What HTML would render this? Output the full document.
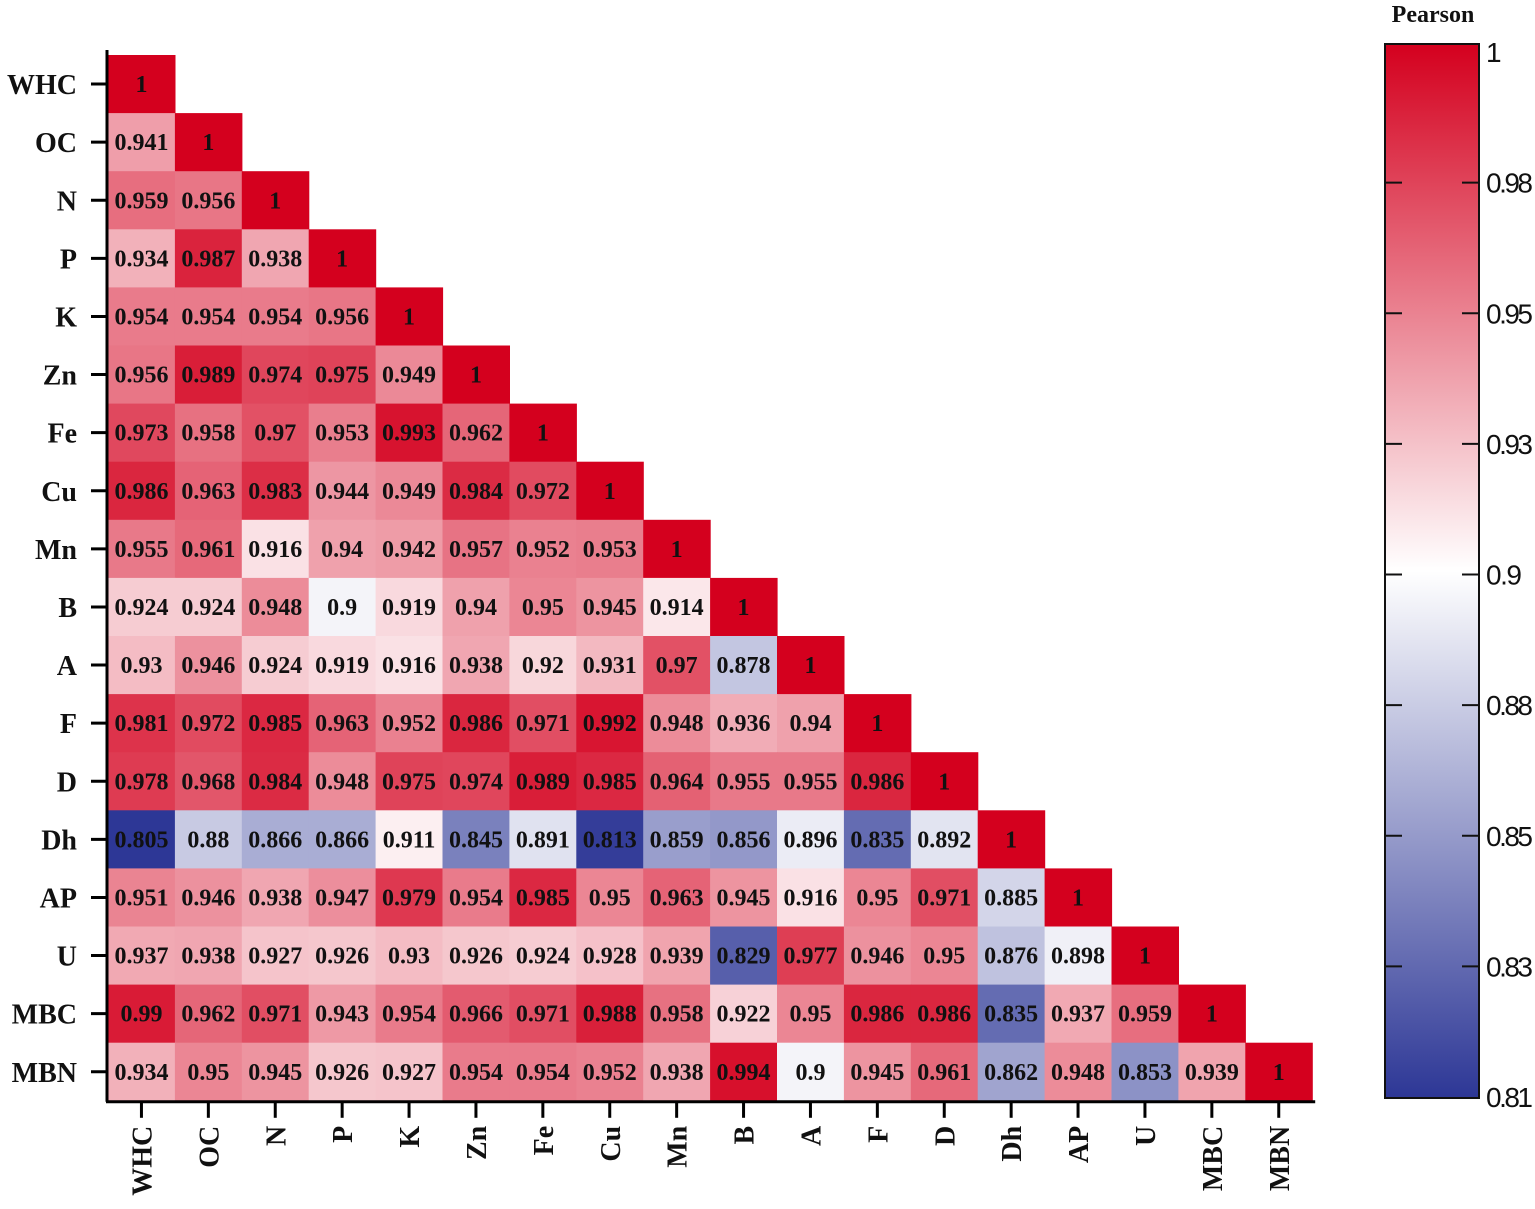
<!DOCTYPE html>
<html><head><meta charset="utf-8">
<style>
html,body{margin:0;padding:0;background:#fff;}
svg{display:block;}
</style></head>
<body>
<svg id="chart" width="1535" height="1209" viewBox="0 0 1535 1209" xmlns="http://www.w3.org/2000/svg">
<defs>
<linearGradient id="cbgrad" x1="0" y1="1" x2="0" y2="0">
<stop offset="0" stop-color="rgb(45,55,150)"/>
<stop offset="0.5" stop-color="rgb(255,255,255)"/>
<stop offset="1" stop-color="rgb(212,0,30)"/>
</linearGradient>
</defs>
<g id="cells"></g>
<g id="axes"></g>
<g id="colorbar"></g>
</svg>
<script>
const labels = ["WHC","OC","N","P","K","Zn","Fe","Cu","Mn","B","A","F","D","Dh","AP","U","MBC","MBN"];
const r1 = [1];
const r2 = [0.941,1];
const r3 = [0.959,0.956,1];
const r4 = [0.934,0.987,0.938,1];
const r5 = [0.954,0.954,0.954,0.956,1];
const r6 = [0.956,0.989,0.974,0.975,0.949,1];
const r7 = [0.973,0.958,0.97,0.953,0.993,0.962,1];
const r8 = [0.986,0.963,0.983,0.944,0.949,0.984,0.972,1];
const r9 = [0.955,0.961,0.916,0.94,0.942,0.957,0.952,0.953,1];
const r10 = [0.924,0.924,0.948,0.9,0.919,0.94,0.95,0.945,0.914,1];
const r11 = [0.93,0.946,0.924,0.919,0.916,0.938,0.92,0.931,0.97,0.878,1];
const r12 = [0.981,0.972,0.985,0.963,0.952,0.986,0.971,0.992,0.948,0.936,0.94,1];
const r13 = [0.978,0.968,0.984,0.948,0.975,0.974,0.989,0.985,0.964,0.955,0.955,0.986,1];
const r14 = [0.805,0.88,0.866,0.866,0.911,0.845,0.891,0.813,0.859,0.856,0.896,0.835,0.892,1];
const r15 = [0.951,0.946,0.938,0.947,0.979,0.954,0.985,0.95,0.963,0.945,0.916,0.95,0.971,0.885,1];
const r16 = [0.937,0.938,0.927,0.926,0.93,0.926,0.924,0.928,0.939,0.829,0.977,0.946,0.95,0.876,0.898,1];
const r17 = [0.99,0.962,0.971,0.943,0.954,0.966,0.971,0.988,0.958,0.922,0.95,0.986,0.986,0.835,0.937,0.959,1];
const r18 = [0.934,0.95,0.945,0.926,0.927,0.954,0.954,0.952,0.938,0.994,0.9,0.945,0.961,0.862,0.948,0.853,0.939,1];
const matrix = [r1,r2,r3,r4,r5,r6,r7,r8,r9,r10,r11,r12,r13,r14,r15,r16,r17,r18];
const cbTicks = ["1","0.98","0.95","0.93","0.9","0.88","0.85","0.83","0.81"];
const vmin = 0.81, vmax = 1.0;

const NS = "http://www.w3.org/2000/svg";
const gx0 = 108, gy0 = 55, cw = 66.9, ch = 58.1;
function xPos(i){ return gx0 + i*cw; }
function yPos(j){ return gy0 + j*ch; }
function color(v){
  let t = (v - vmin)/(vmax - vmin); t = Math.max(0, Math.min(1, t));
  let c;
  if (t < 0.5){ const u = t/0.5; c = [45+(255-45)*u, 55+(255-55)*u, 150+(255-150)*u]; }
  else { const u = (t-0.5)/0.5; c = [255+(212-255)*u, 255*(1-u), 255+(30-255)*u]; }
  return "rgb("+c.map(Math.round).join(",")+")";
}
function el(tag, attrs, parent){
  const e = document.createElementNS(NS, tag);
  for (const k in attrs) e.setAttribute(k, attrs[k]);
  parent.appendChild(e); return e;
}
const cells = document.getElementById("cells");
matrix.forEach((row, j) => {
  row.forEach((v, i) => {
    const r = el("rect", {x:xPos(i), y:yPos(j), width:cw+0.6, height:ch+0.6, fill:color(v)}, cells);
    
    
    const t = el("text", {x:xPos(i)+cw/2, y:yPos(j)+ch/2+8, "text-anchor":"middle", "font-family":"Liberation Serif, serif", "font-weight":"bold", "font-size":"24", fill:"#111"}, cells);
    t.textContent = String(v);
    
    
  });
});
const axes = document.getElementById("axes");
const gBottom = yPos(18);
const yl = el("line", {x1:gx0-1, y1:gy0-5, x2:gx0-1, y2:gBottom+1, stroke:"#000", "stroke-width":3}, axes);


const xl = el("line", {x1:gx0-2, y1:gBottom+1, x2:xPos(18)+3, y2:gBottom+1, stroke:"#000", "stroke-width":3}, axes);


labels.forEach((lab, k) => {
  const cy = yPos(k)+ch/2;
  const tk = el("line", {x1:gx0-17, y1:cy, x2:gx0, y2:cy, stroke:"#000", "stroke-width":3}, axes);
  
  
  const t = el("text", {x:77, y:cy+10, "text-anchor":"end", "font-family":"Liberation Serif, serif", "font-weight":"bold", "font-size":"28", fill:"#111"}, axes);
  t.textContent = lab;
  
  
  const cx = xPos(k)+cw/2;
  const tx = el("line", {x1:cx, y1:gBottom, x2:cx, y2:gBottom+17, stroke:"#000", "stroke-width":3}, axes);
  
  
  const t2 = el("text", {x:0, y:0, transform:"translate("+(cx+10)+","+(gBottom+25)+") rotate(-90)", "text-anchor":"end", "font-family":"Liberation Serif, serif", "font-weight":"bold", "font-size":"28", fill:"#111"}, axes);
  t2.textContent = lab;
  
  
});
const cb = document.getElementById("colorbar");
const cbx = 1385, cbw = 94, cbTop = 44, cbBot = 1098, lab0 = 52, lab1 = 1097;
const bar = el("rect", {x:cbx, y:cbTop, width:cbw, height:cbBot-cbTop, fill:"url(#cbgrad)", stroke:"#111", "stroke-width":2}, cb);


const ttl = el("text", {x:1433, y:22, "text-anchor":"middle", "font-family":"Liberation Serif, serif", "font-weight":"bold", "font-size":"24", fill:"#111"}, cb);
ttl.textContent = "Pearson";


cbTicks.forEach((lab, k) => {
  const y = lab0 + k*(lab1-lab0)/(cbTicks.length-1);
  if (k > 0 && k < cbTicks.length-1){
    const a = el("line", {x1:cbx, y1:y, x2:cbx+17, y2:y, stroke:"#111", "stroke-width":2}, cb);
    
    
    const b = el("line", {x1:cbx+cbw-17, y1:y, x2:cbx+cbw, y2:y, stroke:"#111", "stroke-width":2}, cb);
    
    
  }
  const t = el("text", {x:1486, y:y+10, "font-family":"Liberation Sans, sans-serif", "font-size":"28", fill:"#111"}, cb);
  if (lab.length === 4) t.setAttribute("textLength", 47);
  if (lab.length === 3) t.setAttribute("textLength", 36);
  t.textContent = lab;
  
  
});
</script>
</body></html>
